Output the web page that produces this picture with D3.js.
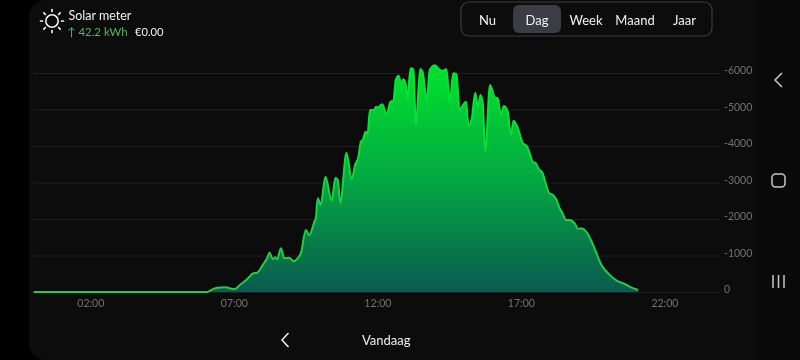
<!DOCTYPE html>
<html>
<head>
<meta charset="utf-8">
<script src="https://cdn.jsdelivr.net/npm/d3@7"></script>
<style>
html,body{margin:0;padding:0;background:#000;overflow:hidden}
svg{display:block}
text{font-family:Lato,"Open Sans",sans-serif}
</style>
</head>
<body>
<svg id="c" width="800" height="360"></svg>
<script>
const minutes = [0,362,373,383,402,413,421,431,446,459,467,479,488,493,500,505,509,517,524,534,544,551,559,569,576,587,590,594,600,610,623,631,636,641,654,665,672,679,684,688,694,698,703,711,716,720,724,729,738,746,752,757,763,768,773,778,781,788,794,799,808,813,822,828,839,849,855,863,870,877,884,890,904,909,916,923,929,934,939,944,954,964,970,977,983,991,998,1003,1011,1023,1031,1037,1044,1049,1056,1063,1078,1086,1093,1099,1105,1113,1120,1132,1138,1144,1159,1171,1187,1201,1219,1236,1250,1264];
const watts = [0,0,63,118,129,90,82,192,348,512,529,740,923,1077,904,951,896,1197,923,940,841,912,1077,1699,1562,1926,2028,2567,2384,3159,2502,3132,3069,2447,3817,3088,3480,3707,4118,4165,4392,4329,4987,4987,5077,5050,5105,5143,4850,5214,5233,5809,5927,5718,5828,5672,5261,6129,6102,4576,6110,6036,5261,6083,6212,6083,6064,6102,5214,5992,5973,5006,5214,4557,4759,5461,5077,5398,5170,3844,5672,5335,5307,4850,5096,4940,4302,4694,4529,4074,4000,3800,3554,3543,3370,3280,2704,2658,2521,2310,2173,1973,1973,1863,1726,1745,1581,1241,740,512,310,219,118,55];
const xTickMinutes = [120,420,720,1020,1320];
const yTicks = [0,1000,2000,3000,4000,5000,6000];
const tabs = ["Nu","Dag","Week","Maand","Jaar"];
const tabCentres = [487.5,537,586,635,684.5];
const title = "Solar meter", energy = "↑ 42.2 kWh", cost = "€0.00", dayLabel = "Vandaag";

const svg = d3.select("#c");
const x = d3.scaleLinear().domain([0,1440]).range([33.6,722.5]);
const y = d3.scaleLinear().domain([0,6000]).range([292,73]);

svg.append("rect").attr("width",800).attr("height",360).attr("fill","#000");
svg.append("rect").attr("x",757).attr("width",43).attr("height",360).attr("fill","#0a0a0a");
svg.append("path").attr("d","M757 0H46A17 17 0 0 0 29 17V343A17 17 0 0 0 46 360H757Z").attr("fill","#0c0c0c");

const defs = svg.append("defs");
const g = defs.append("linearGradient").attr("id","fill").attr("gradientUnits","userSpaceOnUse")
  .attr("x1",0).attr("x2",0).attr("y1",y(6200)).attr("y2",y(0));
g.append("stop").attr("offset",0).attr("stop-color","#00e32c");
g.append("stop").attr("offset",0.5).attr("stop-color","#03a842");
g.append("stop").attr("offset",1).attr("stop-color","#0b5a50");
const gl = defs.append("linearGradient").attr("id","stroke").attr("gradientUnits","userSpaceOnUse")
  .attr("x1",0).attr("x2",0).attr("y1",y(6200)).attr("y2",y(0));
gl.append("stop").attr("offset",0).attr("stop-color","#00e632");
gl.append("stop").attr("offset",1).attr("stop-color","#28c944");

// grid + y axis
const yAxis = svg.append("g").attr("transform","translate(33,0)").style("opacity",0.995)
  .call(d3.axisRight(y).tickValues(yTicks).tickSize(687).tickFormat(d=> d===0 ? "0" : "-"+d));
yAxis.select(".domain").remove();
yAxis.selectAll("line").attr("stroke","#202020").attr("stroke-width",1);
yAxis.selectAll("text").attr("fill","#747474").attr("font-size",10.5).attr("text-anchor","start")
  .attr("x",691).attr("dy","0.05em");

// x axis
const xAxis = svg.append("g").attr("transform","translate(-0.7,292)").style("opacity",0.995)
  .call(d3.axisBottom(x).tickValues(xTickMinutes).tickSize(0).tickPadding(8)
    .tickFormat(m=>String(m/60).padStart(2,"0")+":00"));
xAxis.select(".domain").remove();
xAxis.selectAll("text").attr("fill","#747474").attr("font-size",10.5);

const pts = minutes.map((m,i)=>[m,watts[i]]);
const area = d3.area().x(d=>x(d[0])).y0(y(0)).y1(d=>y(d[1])).curve(d3.curveMonotoneX);
const line = d3.line().x(d=>x(d[0])).y(d=>y(d[1])).curve(d3.curveMonotoneX);
svg.append("path").datum(pts).attr("d",area).attr("fill","url(#fill)");
svg.append("path").datum(pts).attr("d",line).attr("fill","none").attr("stroke","url(#stroke)").attr("stroke-width",2);

// header
const sun = svg.append("g").attr("transform","translate(52,21)").attr("stroke","#f2f2f2").attr("fill","none");
sun.append("circle").attr("r",6.2).attr("stroke-width",1.6);
d3.range(8).forEach(i=>{
  const a=i*Math.PI/4;
  sun.append("line").attr("x1",Math.cos(a)*9.5).attr("y1",Math.sin(a)*9.5)
    .attr("x2",Math.cos(a)*11.5).attr("y2",Math.sin(a)*11.5)
    .attr("stroke-width",1.7).attr("stroke-linecap","round");
});
svg.append("text").attr("x",68.5).attr("y",20).attr("fill","#f0f0f0").attr("font-size",12.5).text(title);
svg.append("text").attr("x",67).attr("y",36).attr("fill","#54b567").attr("font-size",11.4).text(energy);
svg.append("text").attr("x",135).attr("y",36).attr("fill","#f0f0f0").attr("font-size",11.2).text(cost);

// tabs
svg.append("rect").attr("x",461).attr("y",2).attr("width",251).attr("height",34).attr("rx",8)
  .attr("fill","none").attr("stroke","#3c3c3c").attr("stroke-width",1.2);
svg.append("rect").attr("x",513).attr("y",5).attr("width",48).attr("height",28).attr("rx",6).attr("fill","#3a3e44");
svg.selectAll(".tab").data(tabs).enter().append("text").attr("class","tab")
  .attr("x",(d,i)=>tabCentres[i]).attr("y",24.5).attr("text-anchor","middle")
  .attr("fill","#f2f2f2").attr("font-size",13).text(d=>d);

// footer
svg.append("path").attr("d","M288.5 333L282 340L288.5 347").attr("fill","none").attr("stroke","#f0f0f0").attr("stroke-width",1.5);
svg.append("text").attr("x",362).attr("y",345).attr("fill","#eeeeee").attr("font-size",13).text(dayLabel);

// side nav
const nav = svg.append("g").attr("fill","none").attr("stroke","#c8c8c8").attr("stroke-width",1.5);
nav.append("path").attr("d","M782 73L775 80L782 87");
nav.append("rect").attr("x",772).attr("y",174).attr("width",13).attr("height",13).attr("rx",3.5);
[773,778.5,784].forEach(v=>nav.append("line").attr("x1",v).attr("x2",v).attr("y1",275).attr("y2",288));
</script>
</body>
</html>
